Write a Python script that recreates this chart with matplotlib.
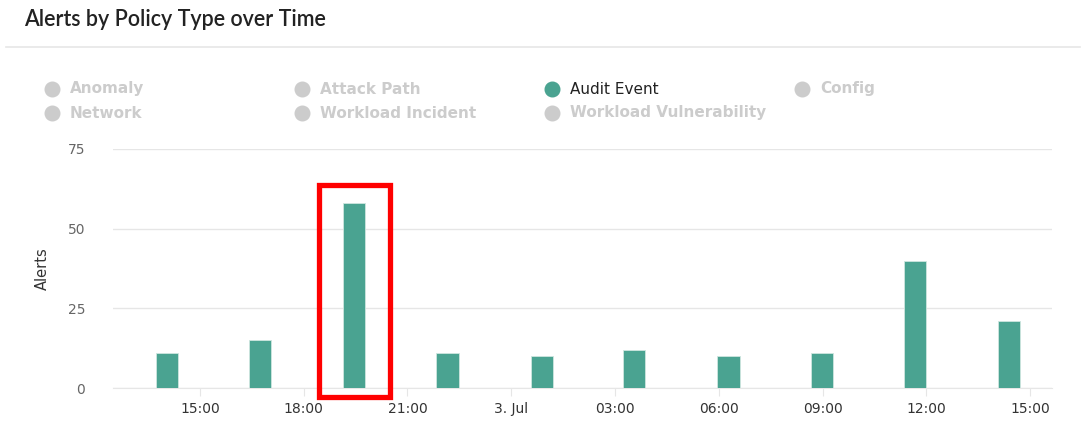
import matplotlib.pyplot as plt
from matplotlib.lines import Line2D
from matplotlib.patches import Rectangle

# heures depuis le 2 juillet 00:00
bar_hours = [14.05, 16.73, 19.45, 22.16, 24.88, 27.56, 30.28, 32.99, 35.68, 38.39]
alerts = [11, 15, 58, 11, 10, 12, 10, 11, 40, 21]

tick_hours = [15, 18, 21, 24, 27, 30, 33, 36, 39]
tick_labels = ["15:00", "18:00", "21:00", "3. Jul", "03:00", "06:00", "09:00", "12:00", "15:00"]

legend_names = ["Anomaly", "Attack Path", "Audit Event", "Config",
                "Network", "Workload Incident", "Workload Vulnerability"]
active = "Audit Event"

teal = "#4aa391"
grey = "#cccccc"
W, H = 1087, 437

fig = plt.figure(figsize=(W / 100, H / 100), dpi=100)
ax = fig.add_axes([113 / W, 1 - 388 / H, (1052 - 113) / W, (388 - 149) / H])

ax.bar(bar_hours, alerts, width=0.64, color=teal, edgecolor="#cfe6e0", linewidth=0.6, zorder=3)

ax.set_xlim(12.49, 39.63)
ax.set_ylim(0, 75)
ax.set_yticks([0, 25, 50, 75])
ax.set_xticks(tick_hours)
ax.set_xticklabels(tick_labels)
ax.grid(axis="y", color="#e6e6e6", linewidth=1)
for s in ["top", "right", "left"]:
    ax.spines[s].set_visible(False)
ax.spines["bottom"].set_color("#e6e6e6")
ax.tick_params(axis="y", length=0, pad=20, labelsize=10, labelcolor="#666666")
ax.tick_params(axis="x", length=6, color="#e6e6e6", pad=4, labelsize=10, labelcolor="#333333")
ax.set_ylabel("Alerts", fontsize=10.5, color="#333333", labelpad=13)

# cadre rouge autour du pic
ax.add_patch(Rectangle((bar_hours[2] - 1.0, -2.7), 2.05, 66.5, fill=False,
                       edgecolor="#ff0000", linewidth=3.8, clip_on=False, zorder=5))

# titre + separateur
fig.text(24 / W, 1 - 20 / H, "Alerts by Policy Type over Time", fontsize=15.5,
         family="Lato", fontweight="semibold", color="#222222", va="center", ha="left")
fig.add_artist(Line2D([6 / W, 1080 / W], [1 - 47 / H, 1 - 47 / H], color="#e6e6e6", linewidth=1.2))

# legende faite a la main
for i, name in enumerate(legend_names):
    col, row = i % 4, i // 4
    cx = (52 + 250 * col) / W
    cy = 1 - (89 + 24 * row) / H
    on = name == active
    fig.add_artist(Line2D([cx], [cy], marker="o", markersize=10.5, color=teal if on else grey,
                          linestyle="none"))
    fig.text(cx + 18 / W, cy, name, fontsize=11, fontweight="bold" if not on else "medium",
             color="#222222" if on else grey, va="center", ha="left")

fig.savefig("out.png", dpi=100)
